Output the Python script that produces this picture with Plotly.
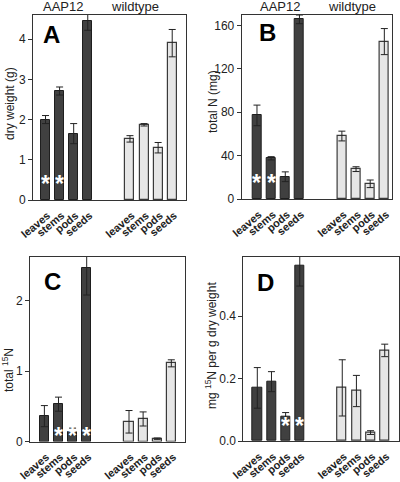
import plotly.graph_objects as go

# ---------------- data ----------------
organs = ["leaves", "stems", "pods", "seeds"]
groups = ["AAP12", "wildtype"]

# Panel A: dry weight (g)
dw_aap = [2.00, 2.71, 1.65, 4.45]
dw_aap_err = [0.10, 0.10, 0.25, 0.23]
dw_wt = [1.52, 1.87, 1.30, 3.90]
dw_wt_err = [0.08, 0.03, 0.13, 0.34]

# Panel B: total N (mg)
n_aap = [77.0, 37.5, 20.5, 165.5]
n_aap_err = [9.5, 1.5, 4.5, 4.0]
n_wt = [58.0, 27.5, 14.0, 145.0]
n_wt_err = [4.5, 2.2, 3.5, 12.0]

# Panel C: total 15N
t15_aap = [0.36, 0.53, 0.14, 2.46]
t15_aap_err = [0.15, 0.10, 0.05, 0.38]
t15_wt = [0.28, 0.32, 0.04, 1.11]
t15_wt_err = [0.16, 0.10, 0.01, 0.05]

# Panel D: mg 15N per g dry weight
c15_aap = [0.17, 0.19, 0.079, 0.56]
c15_aap_err = [0.065, 0.032, 0.012, 0.064]
c15_wt = [0.17, 0.16, 0.027, 0.29]
c15_wt_err = [0.09, 0.05, 0.006, 0.02]

# significance stars (AAP12 bars marked with *)
stars_A = [True, True, False, False]
stars_B = [True, True, False, False]
stars_C = [False, True, True, True]
stars_D = [False, False, True, True]

# ---------------- layout helpers ----------------
W, H = 400, 482
FONT = "Liberation Sans, Arial, sans-serif"
GAP = 6
x_aap = [i for i in range(len(organs))]
x_wt = [i + GAP for i in range(len(organs))]

def px_x(a, b):
    return [a / W, b / W]

def px_y(top, bottom):
    return [1 - bottom / H, 1 - top / H]

panels = [
    dict(name="A", vals=(dw_aap, dw_aap_err, dw_wt, dw_wt_err), stars=stars_A,
         dx=px_x(33, 186), dy=px_y(15, 200), xr=[-0.89, 9.98], yr=[0, 4.6],
         ticks=[0, 1, 2, 3, 4], ticktext=None, title="dry weight (g)",
         title_pos=(10, 104), letter_pos=(51, 35), star_y=0.5,
         group_pos=[(63, 7), (135, 7)]),
    dict(name="B", vals=(n_aap, n_aap_err, n_wt, n_wt_err), stars=stars_B,
         dx=px_x(241.7, 391.7), dy=px_y(15, 199), xr=[-1.08, 9.52], yr=[0, 169.5],
         ticks=[0, 40, 80, 120, 160], ticktext=None, title="total N (mg)",
         title_pos=(213, 102), letter_pos=(267, 33), star_y=18.5,
         group_pos=[(280, 7), (352, 7)]),
    dict(name="C", vals=(t15_aap, t15_aap_err, t15_wt, t15_wt_err), stars=stars_C,
         dx=px_x(30, 185), dy=px_y(257, 441.5), xr=[-1.02, 9.97], yr=[0, 2.62],
         ticks=[0, 1, 2], ticktext=None, title="total <sup>15</sup>N",
         title_pos=(8, 370), letter_pos=(52, 281), star_y=0.14,
         group_pos=None),
    dict(name="D", vals=(c15_aap, c15_aap_err, c15_wt, c15_wt_err), stars=stars_D,
         dx=px_x(243.3, 399.3), dy=px_y(256.7, 441), xr=[-0.99, 10.03], yr=[0, 0.59],
         ticks=[0, 0.2, 0.4], ticktext=["0.0", "0.2", "0.4"],
         title="mg <sup>15</sup>N per g dry weight",
         title_pos=(211, 346), letter_pos=(265, 282), star_y=0.06,
         group_pos=None),
]

fig = go.Figure()
annotations = []
layout = {}

for i, p in enumerate(panels):
    n = "" if i == 0 else str(i + 1)
    xa, ya = "x" + n, "y" + n
    aap, aap_e, wt, wt_e = p["vals"]
    fig.add_trace(go.Bar(
        x=x_aap, y=aap, width=0.64, xaxis=xa, yaxis=ya,
        marker=dict(color="#404040", line=dict(color="#1e1e1e", width=1)),
        error_y=dict(type="data", array=aap_e, color="#222222", thickness=1, width=3.5),
        showlegend=False, name=groups[0]))
    fig.add_trace(go.Bar(
        x=x_wt, y=wt, width=0.64, xaxis=xa, yaxis=ya,
        marker=dict(color="#e6e6e6", line=dict(color="#3a3a3a", width=1.2)),
        error_y=dict(type="data", array=wt_e, color="#222222", thickness=1, width=3.5),
        showlegend=False, name=groups[1]))

    layout["xaxis" + n] = dict(
        domain=p["dx"], range=p["xr"], anchor=ya, automargin=False,
        tickmode="array", tickvals=x_aap + x_wt, ticktext=organs + organs,
        tickangle=-40, ticks="", showgrid=False, zeroline=False,
        ticklabelstandoff=4, ticklabelshift=2,
        showline=True, mirror=True, linecolor="#333333", linewidth=1,
        tickfont=dict(family=FONT, size=11, color="#222222", weight="bold"),
        fixedrange=True)
    ydict = dict(
        domain=p["dy"], range=p["yr"], anchor=xa, automargin=False,
        tickmode="array", tickvals=p["ticks"],
        ticks="outside", ticklen=4, tickcolor="#333333",
        showgrid=False, zeroline=False,
        showline=True, mirror=True, linecolor="#333333", linewidth=1,
        tickfont=dict(family=FONT, size=12, color="#222222"),
        fixedrange=True)
    if p["ticktext"] is not None:
        ydict["ticktext"] = p["ticktext"]
    layout["yaxis" + n] = ydict

    # panel letter
    lx, ly = p["letter_pos"]
    annotations.append(dict(
        text="<b>%s</b>" % p["name"], x=lx / W, y=1 - ly / H, xref="paper", yref="paper",
        showarrow=False, xanchor="center", yanchor="middle",
        font=dict(family=FONT, size=24, color="#000000")))
    # axis title
    tx, ty = p["title_pos"]
    annotations.append(dict(
        text=p["title"], x=tx / W, y=1 - ty / H, xref="paper", yref="paper",
        showarrow=False, xanchor="center", yanchor="middle", textangle=-90,
        font=dict(family=FONT, size=12, color="#222222")))
    # group labels
    if p["group_pos"]:
        for g, (gx, gy) in zip(groups, p["group_pos"]):
            annotations.append(dict(
                text=g, x=gx / W, y=1 - gy / H, xref="paper", yref="paper",
                showarrow=False, xanchor="center", yanchor="middle",
                font=dict(family=FONT, size=13, color="#222222")))
    # stars
    for xv, s in zip(x_aap, p["stars"]):
        if s:
            annotations.append(dict(
                text="<b>*</b>", x=xv, y=p["star_y"], xref=xa, yref=ya,
                showarrow=False, xanchor="center", yanchor="middle", yshift=-4,
                font=dict(family=FONT, size=23, color="#ffffff")))

fig.update_layout(
    width=W, height=H, margin=dict(l=0, r=0, t=0, b=0, autoexpand=False),
    paper_bgcolor="white", plot_bgcolor="white",
    annotations=annotations, bargap=0, **layout)

fig.write_html(
    "out.html",
    config={"displayModeBar": False},
    post_script="document.body.style.margin='0px';document.body.style.overflow='hidden';",
)
